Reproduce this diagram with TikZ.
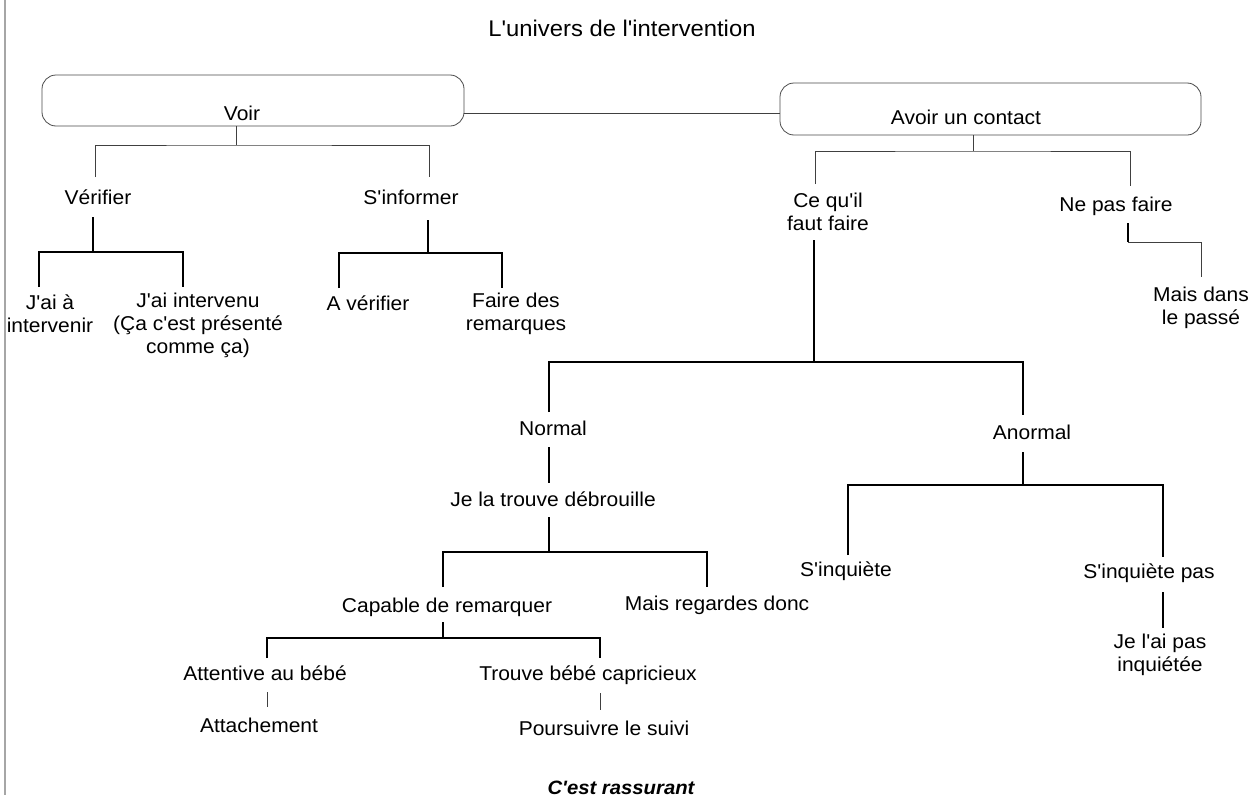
\documentclass[tikz,border=0pt]{standalone}
\usepackage{fontspec}
\setmainfont{Liberation Sans}[FakeStretch=1.05, Ligatures=TeXOff]
\begin{document}
\begin{tikzpicture}[x=0.75pt,y=-0.75pt,
  lbl/.style={font=\fontsize{15}{17.25}\selectfont, inner sep=0pt, align=center},
  ttl/.style={font=\fontsize{17}{20}\selectfont, inner sep=0pt},
  concl/.style={font=\fontsize{14.5}{17}\selectfont\bfseries\itshape, inner sep=0pt},
  box/.style={draw=black!70, line width=0.6pt, rounded corners=10.5pt, inner sep=0pt, outer sep=0pt},
  tline/.style={draw=black!75, line width=0.6pt},
  conn/.style={draw=black, line width=0.95pt},
  edge/.style={draw=black!35, line width=1pt}]
\useasboundingbox (0,0) rectangle (1255,810);
\fill[white] (0,0) rectangle (1255,810);
% scan edge
\draw[edge] (5,0) -- (5,795);

% nodes
\node[ttl] (title) at (622,28) {L'univers de l'intervention};
\node[box, minimum width=316.5pt, minimum height=38.25pt] (voir) at (253,100.5) {};
\node[lbl] (voirT) at (242,113) {Voir};
\node[box, minimum width=315.75pt, minimum height=39pt] (avoir) at (990.5,109) {};
\node[lbl] (avoirT) at (966,117) {Avoir un contact};
\node[lbl] (verif) at (98,197) {Vérifier};
\node[lbl] (sinf) at (411,197) {S'informer};
\node[lbl] (jaia) at (50,314) {J'ai à\\intervenir};
\node[lbl] (jaiint) at (198,325) {J'ai intervenu\\(Ça c'est présenté\\comme ça)};
\node[lbl] (averif) at (368,303) {A vérifier};
\node[lbl] (faire) at (516,314) {Faire des\\remarques};
\node[lbl] (cequ) at (828,212) {Ce qu'il\\faut faire};
\node[lbl] (nepas) at (1116,206) {Ne pas faire};
\node[lbl] (mais) at (1201,308) {Mais dans\\le passé};
\node[lbl] (normal) at (553,428) {Normal};
\node[lbl] (anormal) at (1032,432) {Anormal};
\node[lbl] (jela) at (553,499) {Je la trouve débrouille};
\node[lbl] (capable) at (447,607) {Capable de remarquer};
\node[lbl] (regardes) at (717,605) {Mais regardes donc};
\node[lbl] (sinq) at (846,571) {S'inquiète};
\node[lbl] (sinqp) at (1149,573) {S'inquiète pas};
\node[lbl] (jelai) at (1160,655) {Je l'ai pas\\inquiétée};
\node[lbl] (attentive) at (265,673) {Attentive au bébé};
\node[lbl] (trouve) at (588,675) {Trouve bébé capricieux};
\node[lbl] (attach) at (259,725) {Attachement};
\node[lbl] (pours) at (604,728) {Poursuivre le suivi};
\node[concl] (rass) at (621,788) {C'est rassurant};

% connector end points
\coordinate (verifTop) at (95,177);
\coordinate (sinfTop) at (429,177);
\coordinate (verifBot) at (93,217);
\coordinate (jaiaTop) at (39,287);
\coordinate (jaiintTop) at (183,287);
\coordinate (sinfBot) at (428,220);
\coordinate (averifTop) at (339,288);
\coordinate (faireTop) at (502,288);
\coordinate (cequTop) at (815,184);
\coordinate (nepasTop) at (1130,186);
\coordinate (nepasBot) at (1128,223);
\coordinate (nepasBar) at (1128,242);
\coordinate (maisTop) at (1201,277);
\coordinate (cequBot) at (814,240);
\coordinate (normalTop) at (549,412);
\coordinate (anormalTop) at (1023,415);
\coordinate (normalBot) at (549,447);
\coordinate (jelaTop) at (549,483);
\coordinate (jelaBot) at (549,517);
\coordinate (capTop) at (443,587);
\coordinate (regTop) at (707,587);
\coordinate (anormalBot) at (1023,452);
\coordinate (sinqTop) at (848,555);
\coordinate (sinqpTop) at (1163,557);
\coordinate (sinqpBot) at (1163,592);
\coordinate (jelaiTop) at (1163,628);
\coordinate (capBot) at (443,622);
\coordinate (attTop) at (267,658);
\coordinate (trouveTop) at (600,658);
\coordinate (attBot) at (267,692);
\coordinate (attachTop) at (267,707);
\coordinate (trouveBot) at (600,693);
\coordinate (poursTop) at (600,710);

% connectors
\draw[tline] (voir.east |- 0,113) -- (avoir.west |- 0,113);
\draw[tline] (236,0 |- voir.south) -- (236,145);
\draw[tline] (verifTop) |- (236,145) -| (sinfTop);
\draw[conn] (verifBot) -- (93,252);
\draw[conn] (jaiaTop) |- (93,252) -| (jaiintTop);
\draw[conn] (sinfBot) -- (428,253);
\draw[conn] (averifTop) |- (428,253) -| (faireTop);
\draw[tline] (973,0 |- avoir.south) -- (973,151);
\draw[tline] (cequTop) |- (973,151) -| (nepasTop);
\draw[conn] (nepasBot) -- (nepasBar);
\draw[tline] (nepasBar) -| (maisTop);
\draw[conn] (cequBot) -- (814,362);
\draw[conn] (normalTop) |- (814,362) -| (anormalTop);
\draw[conn] (normalBot) -- (jelaTop);
\draw[conn] (jelaBot) -- (549,552);
\draw[conn] (capTop) |- (549,552) -| (regTop);
\draw[conn] (anormalBot) -- (1023,485);
\draw[conn] (sinqTop) |- (1023,485) -| (sinqpTop);
\draw[conn] (sinqpBot) -- (jelaiTop);
\draw[conn] (capBot) -- (443,638);
\draw[conn] (attTop) |- (443,638) -| (trouveTop);
\draw[tline] (attBot) -- (attachTop);
\draw[tline] (trouveBot) -- (poursTop);
\end{tikzpicture}
\end{document}
